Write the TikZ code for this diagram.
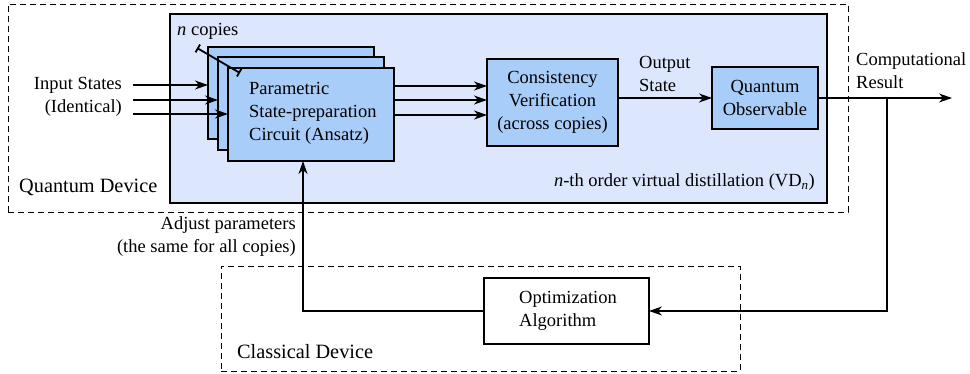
\documentclass[tikz,border=0pt]{standalone}
\usepackage{fontspec}
\setmainfont{Liberation Serif}
\usetikzlibrary{arrows.meta}
\definecolor{vdfill}{HTML}{DCE6FC}
\definecolor{boxfill}{HTML}{A8CDF8}
\begin{document}
\begin{tikzpicture}[x=1pt,y=-1pt,
  txt/.style={font=\fontsize{18.5}{23}\selectfont, inner sep=0pt},
  devtxt/.style={font=\fontsize{20.3}{24}\selectfont, inner sep=0pt},
  bluebox/.style={draw, line width=1.4pt, fill=boxfill, inner sep=0pt, outer sep=0pt, anchor=north west},
  whitebox/.style={draw, line width=1.2pt, fill=white, inner sep=0pt, outer sep=0pt, anchor=north west},
  dashbox/.style={draw, line width=0.9pt, dash pattern=on 6pt off 4pt, inner sep=0pt, outer sep=0pt, anchor=north west},
  arr/.style={line width=1.1pt, -{Stealth[length=13pt,width=9pt,inset=4pt]}},
  ln/.style={line width=1.1pt}]
\useasboundingbox (0,0) rectangle (970,374);
% devices
\node[dashbox, minimum width=840pt, minimum height=208pt] (qd) at (8,4) {};
\node[dashbox, minimum width=519pt, minimum height=105pt] (cd) at (221,266) {};
% VD box
\node[draw, line width=2.6pt, fill=vdfill, inner sep=0pt, outer sep=0pt, anchor=north west,
  minimum width=657pt, minimum height=189pt] (vd) at (170,14) {};
% stacked copies
\node[bluebox, minimum width=166pt, minimum height=92pt] (back) at (208,47) {};
\node[bluebox, minimum width=166pt, minimum height=93pt] (mid) at (218,57) {};
\node[bluebox, minimum width=166pt, minimum height=93pt] (front) at (228,68) {};
\node[txt, align=left, anchor=west] (ansatz) at (249,113) {Parametric\\State-preparation\\Circuit (Ansatz)};
% consistency
\node[bluebox, minimum width=131pt, minimum height=87pt] (cons) at (487,59) {};
\node[txt, align=center] (constxt) at (cons.center) {Consistency\\Verification\\(across copies)};
% observable
\node[bluebox, minimum width=106pt, minimum height=62pt] (obs) at (712,67) {};
\node[txt, align=center] (obstxt) at (obs.center) {Quantum\\Observable};
% optimization
\node[whitebox, minimum width=165pt, minimum height=66pt] (opt) at (484,278) {};
\node[txt, align=left, anchor=west] (opttxt) at (519,311) {Optimization\\Algorithm};
% labels
\node[devtxt, anchor=west] (qdlab) at (19,187) {Quantum Device};
\node[devtxt, anchor=west] (cdlab) at (237,352) {Classical Device};
\node[txt, anchor=east] (vdlab) at (815,182) {\textit{n}-th order virtual distillation (VD\textsubscript{\textit{n}})};
\node[txt, anchor=west] (ncop) at (177,31) {\textit{n} copies};
\node[txt, align=right, anchor=east] (inlab) at (122,96.5) {Input States\\(Identical)};
\node[txt, align=left, anchor=west] (outlab) at (639,73.5) {Output\\State};
\node[txt, align=left, anchor=west] (reslab) at (856,70.5) {Computational\\Result};
\node[txt, align=right, anchor=east] (adjlab) at (296,237) {Adjust parameters\\(the same for all copies)};
% n copies marker
\coordinate (nc1) at (197,48);
\coordinate (nc2) at (240,73);
\draw[line width=1.8pt, {Bar[width=9pt]}-{Bar[width=9pt]}] (nc1) -- (nc2);
% input arrows
\coordinate (in1) at (133,85);
\coordinate (in2) at (133,100);
\coordinate (in3) at (133,114);
\draw[arr] (in1) -- (back.west |- in1);
\draw[arr] (in2) -- (mid.west |- in2);
\draw[arr] (in3) -- (front.west |- in3);
% to consistency
\foreach \yy in {86,100,115} {
  \draw[arr] (front.east |- 0,\yy) -- (cons.west |- 0,\yy);
}
% output state
\draw[arr] (cons.east |- obs.center) -- (obs.west);
% result
\coordinate (resend) at (952,98);
\coordinate (br) at (887,98);
\draw[arr] (obs.east) -- (resend);
\draw[arr] (br) |- (opt.east);
% feedback
\coordinate (fb) at (303,161);
\draw[arr] (opt.west) -| (fb);
\end{tikzpicture}
\end{document}
